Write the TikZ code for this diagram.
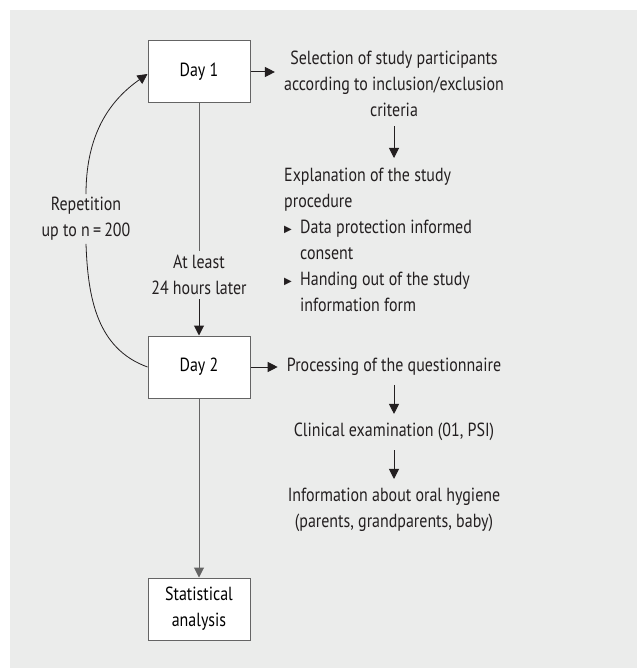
\documentclass[tikz,border=0pt]{standalone}
\usepackage{fontspec}
\setmainfont[FakeStretch=0.84]{PT Sans}
\newfontfamily\symfont{DejaVu Sans}
\usepackage{tikz}
\usetikzlibrary{arrows.meta,positioning}
\definecolor{bggray}{RGB}{235,236,235}
\definecolor{linegray}{RGB}{100,100,100}
\definecolor{txtgray}{RGB}{35,31,32}
\newcommand{\tri}{\makebox[16pt][l]{\raisebox{1pt}{\symfont\fontsize{10}{10}\selectfont ▶}}}
\tikzset{
  dayBox/.style={ draw=linegray, fill=white, line width=1pt, minimum width=102pt, minimum height=62pt, align=center, inner sep=2pt }
}
\tikzset{
  txt/.style={ align=center, inner sep=9pt, text=txtgray }
}
\tikzset{
  arr/.style={ draw=txtgray, line width=1pt, -{Triangle[length=10pt,width=10pt]} }
}
\tikzset{
  lne/.style={ draw=linegray, line width=1pt }
}

\begin{document}
\begin{tikzpicture}[x=1pt, y=-1pt, font=\fontsize{19}{26}\selectfont]
      \useasboundingbox (0,0) rectangle (637,668);
      \fill[bggray] (10,10) rectangle (637,668);

      \node[dayBox] (day1) at (199, 72) {Day 1};
      \node[dayBox] (day2) at (199, 367) {Day 2};
      \node[dayBox] (stat) at (199, 609) {Statistical\\analysis};

      \node[txt] (sel) at (394, 84) {Selection of study participants\\according to inclusion/exclusion\\criteria};
      \node[txt, align=left, anchor=north west, inner xsep=0pt, inner ysep=10pt] (expl) at (284, 158) {Explanation of the study\\procedure\\\tri Data protection informed\\\hspace*{16pt}consent\\\tri Handing out of the study\\\hspace*{16pt}information form};

      \node[txt, inner sep=4pt] (least) at (199, 275) {At least\\24 hours later};
      \node[txt, inner sep=3pt] (rep) at (86, 219) {Repetition\\up to n\,=\,200};

      \node[txt] (proc) at (394, 367) {Processing of the questionnaire};
      \node[txt] (clin) at (394, 432) {Clinical examination (01, PSI)};
      \node[txt] (info) at (394, 510) {Information about oral hygiene\\(parents, grandparents, baby)};

      \draw[arr] (day1) -- (sel.west |- day1);
      \draw[arr] (sel.south) -- (sel.south |- expl.north);

      \draw[lne] (day1) -- (least);
      \draw[arr] (least) -- (day2);

      \draw[arr] (day2) -- (proc.west |- day2);
      \draw[arr] (proc) -- (clin);
      \draw[arr] (clin) -- (info);

      \draw[arr, draw=linegray] (day2) -- (stat);

      \draw[draw=txtgray, line width=0.8pt] (day2.west) to[out=160, in=-88] (rep.south);
      \draw[arr, line width=0.8pt] (rep.north) to[out=90, in=-145] ([yshift=-2pt]day1.west);
    \end{tikzpicture}
\end{document}
